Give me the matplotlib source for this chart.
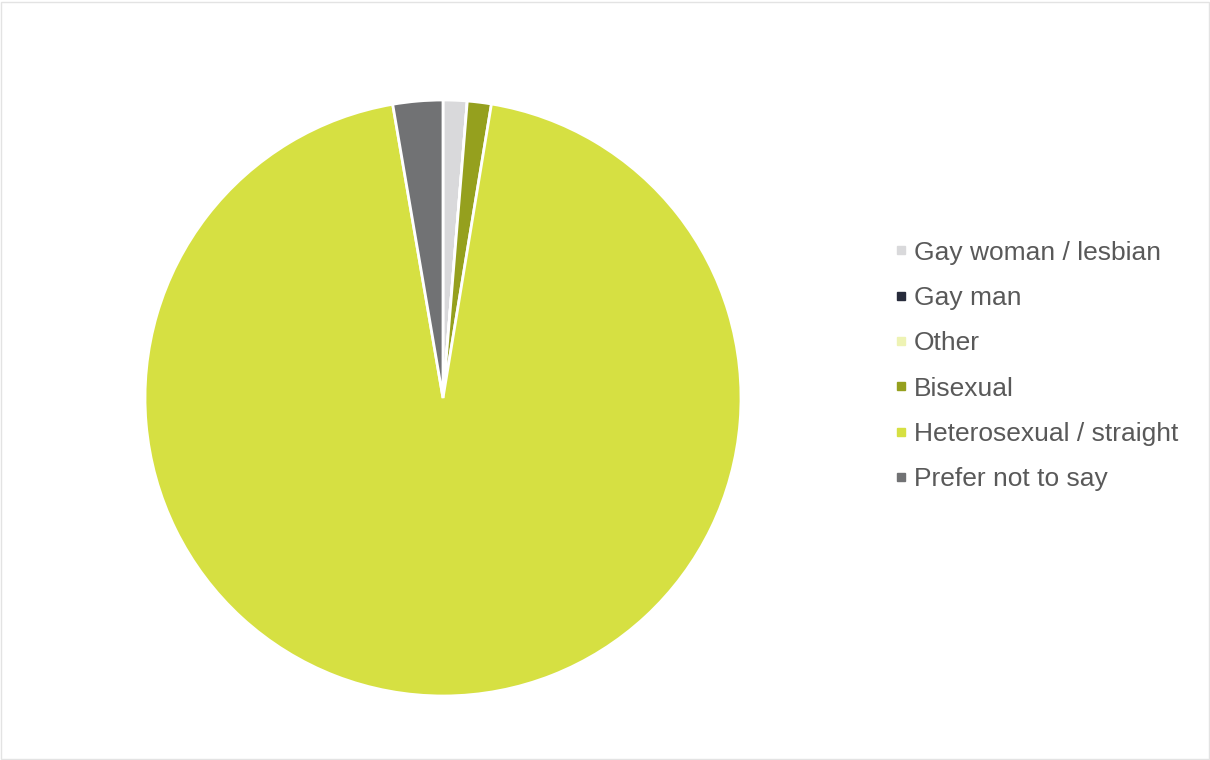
import matplotlib.pyplot as plt
from matplotlib.lines import Line2D
from matplotlib.patches import Rectangle

plt.rcParams["font.family"] = ["Liberation Sans", "DejaVu Sans"]

# Share of respondents by sexual orientation (%)
categories = [
    "Gay woman / lesbian",
    "Gay man",
    "Other",
    "Bisexual",
    "Heterosexual / straight",
    "Prefer not to say",
]
shares = [1.3, 0.0, 0.0, 1.3, 94.7, 2.7]
colors = ["#d9d9db", "#272b3b", "#eef3b4", "#95a01e", "#d6e042", "#717274"]

fig = plt.figure(figsize=(12.1, 7.6), dpi=100)
fig.patches.append(
    Rectangle((0.001, 0.001), 0.998, 0.997, transform=fig.transFigure,
              fill=False, edgecolor="#e3e3e3", linewidth=1.0)
)

ax = fig.add_axes([145 / 1210, 64 / 760, 596 / 1210, 596 / 760])
ax.pie(
    shares,
    colors=colors,
    startangle=90,
    counterclock=False,
    wedgeprops={"edgecolor": "white", "linewidth": 2},
)
ax.set_xlim(-1.0, 1.0)
ax.set_ylim(-1.0, 1.0)
ax.set_aspect("equal")

handles = [
    Line2D([], [], linestyle="none", marker="s", markersize=6,
           markerfacecolor=c, markeredgecolor=c)
    for c in colors
]
fig.legend(
    handles,
    categories,
    loc="center left",
    bbox_to_anchor=(869 / 1210, 1 - 366 / 760),
    frameon=False,
    fontsize=19,
    labelcolor="#595959",
    handlelength=0.6,
    handletextpad=0.2,
    labelspacing=0.81,
)

fig.savefig("out.png", dpi=100)
